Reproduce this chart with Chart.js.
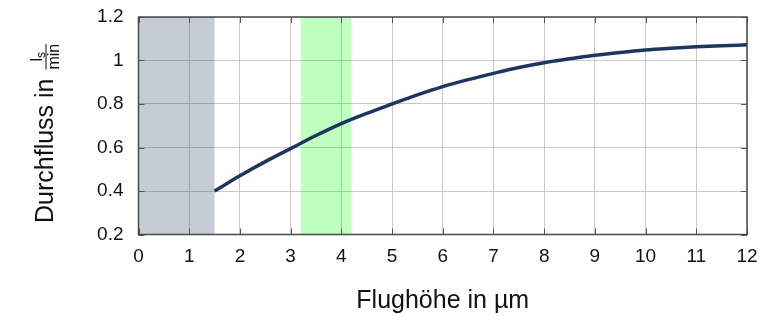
<!DOCTYPE html>
<html>
<head>
<meta charset="utf-8">
<script src="https://cdn.jsdelivr.net/npm/chart.js@4"></script>
<style>
  html, body { margin: 0; padding: 0; background: #fff; }
  #wrap { width: 780px; height: 316px; }
</style>
</head>
<body>
<div id="wrap"><canvas id="flowChart" width="780" height="316"></canvas></div>
<script>
"use strict"

// Flughöhe in µm / Durchfluss in ls/min
const flughoehe = [1.5, 2, 2.5, 3, 3.5, 4, 4.5, 5, 5.5, 6, 6.5, 7, 7.5, 8, 8.5, 9, 9.5, 10, 10.5, 11, 11.5, 12]
const durchfluss = [0.40, 0.47, 0.535, 0.595, 0.655, 0.71, 0.757, 0.80, 0.842, 0.88, 0.912, 0.941, 0.968, 0.99, 1.008, 1.024, 1.037, 1.048, 1.056, 1.063, 1.068, 1.072]

// shaded ranges on the x axis
const grauBereich = [0, 1.5]
const gruenBereich = [3.2, 4.2]

const xTicks = [0, 1, 2, 3, 4, 5, 6, 7, 8, 9, 10, 11, 12]
const yTicks = [0.2, 0.4, 0.6, 0.8, 1, 1.2]

const fontName = "'Liberation Sans', Arial, sans-serif"

// shaded bands, drawn over the grid but under the line
const bandPlugin = {
    id: 'bands',
    beforeDatasetsDraw(chart) {
        const ctx = chart.ctx
        const area = chart.chartArea
        const x = chart.scales.x
        ctx.save()
        ctx.fillStyle = 'rgba(56, 78, 110, 0.29)'
        let a = x.getPixelForValue(grauBereich[0])
        let b = x.getPixelForValue(grauBereich[1])
        ctx.fillRect(a, area.top, b - a, area.bottom - area.top)
        ctx.fillStyle = 'rgba(0, 255, 0, 0.25)'
        a = x.getPixelForValue(gruenBereich[0])
        b = x.getPixelForValue(gruenBereich[1])
        ctx.fillRect(a, area.top, b - a, area.bottom - area.top)
        ctx.restore()
    }
}

// frame, inward ticks and y title with fraction
const framePlugin = {
    id: 'frame',
    afterDraw(chart) {
        const ctx = chart.ctx
        const area = chart.chartArea
        const x = chart.scales.x
        const y = chart.scales.y
        ctx.save()
        ctx.strokeStyle = '#555'
        ctx.lineWidth = 1
        const len = 6
        ctx.beginPath()
        xTicks.forEach(v => {
            const px = Math.round(x.getPixelForValue(v)) + 0.5
            ctx.moveTo(px, area.bottom); ctx.lineTo(px, area.bottom - len)
            ctx.moveTo(px, area.top); ctx.lineTo(px, area.top + len)
        })
        yTicks.forEach(v => {
            const py = Math.round(y.getPixelForValue(v)) + 0.5
            ctx.moveTo(area.left, py); ctx.lineTo(area.left + len, py)
            ctx.moveTo(area.right, py); ctx.lineTo(area.right - len, py)
        })
        ctx.stroke()

        ctx.strokeStyle = '#4a4a4a'
        ctx.lineWidth = 1.5
        ctx.strokeRect(area.left, area.top, area.right - area.left, area.bottom - area.top)

        // y axis title
        ctx.translate(53, 223)
        ctx.rotate(-Math.PI / 2)
        ctx.fillStyle = '#111'
        ctx.textBaseline = 'alphabetic'
        ctx.textAlign = 'left'
        ctx.font = '25px ' + fontName
        const main = 'Durchfluss in '
        ctx.fillText(main, 0, 0)
        const w = ctx.measureText(main).width
        ctx.font = '16px ' + fontName
        const wMin = ctx.measureText('min').width
        const cx = w + 2 + wMin / 2
        const barY = -7
        ctx.fillRect(w + 2, barY - 0.5, wMin, 1)
        ctx.textAlign = 'center'
        ctx.fillText('min', cx, barY + 13)
        ctx.font = '16px ' + fontName
        const wl = ctx.measureText('l').width
        ctx.font = '12px ' + fontName
        const ws = ctx.measureText('s').width
        const start = cx - (wl + ws) / 2
        ctx.textAlign = 'left'
        ctx.font = '16px ' + fontName
        ctx.fillText('l', start, barY - 4)
        ctx.font = '12px ' + fontName
        ctx.fillText('s', start + wl, barY - 1.5)
        ctx.restore()
    }
}

const ctx = document.getElementById('flowChart')
const myChart = new Chart(ctx, {
    type: 'line',
    data: {
        datasets: [{
            label: 'Durchfluss',
            data: flughoehe.map((f, i) => ({ x: f, y: durchfluss[i] })),
            borderColor: '#1d365e',
            borderWidth: 3.5,
            pointRadius: 0,
            fill: false,
            cubicInterpolationMode: 'monotone'
        }]
    },
    options: {
        responsive: false,
        animation: false,
        layout: { padding: { left: 0, top: 17, right: 33, bottom: 0 } },
        plugins: {
            legend: { display: false },
            tooltip: { enabled: false }
        },
        scales: {
            x: {
                type: 'linear',
                min: 0,
                max: 12,
                afterBuildTicks: scale => { scale.ticks = xTicks.map(v => ({ value: v })) },
                afterFit: scale => { scale.height = 81.5 },
                grid: { color: '#c8c8c8', lineWidth: 1, drawTicks: false },
                border: { display: false },
                ticks: {
                    color: '#111',
                    padding: 11,
                    maxRotation: 0,
                    font: { family: fontName, size: 19 }
                },
                title: {
                    display: true,
                    text: 'Flughöhe in µm',
                    color: '#111',
                    padding: { top: 14, bottom: 0 },
                    font: { family: fontName, size: 25 }
                }
            },
            y: {
                type: 'linear',
                min: 0.2,
                max: 1.2,
                afterBuildTicks: scale => { scale.ticks = yTicks.map(v => ({ value: v })) },
                afterFit: scale => {
                    scale.width = 138.5
                    scale.paddingTop = 0
                    scale.paddingBottom = 0
                },
                grid: { color: '#c8c8c8', lineWidth: 1, drawTicks: false },
                border: { display: false },
                ticks: {
                    color: '#111',
                    padding: 15,
                    font: { family: fontName, size: 19 },
                    callback: v => String(Math.round(v * 10) / 10)
                }
            }
        }
    },
    plugins: [bandPlugin, framePlugin]
})
</script>
</body>
</html>
